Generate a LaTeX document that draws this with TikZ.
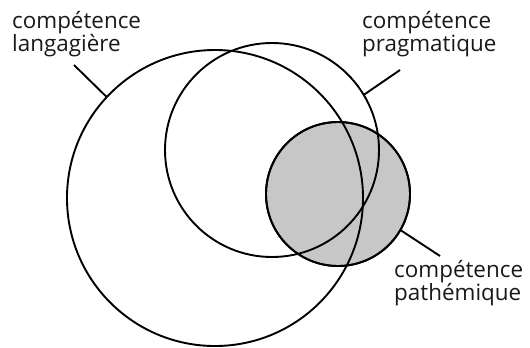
\documentclass[tikz,border=0pt]{standalone}
\usepackage{fontspec}
\setmainfont{Open Sans}
\begin{document}
\begin{tikzpicture}[x=1bp,y=-1bp,
  ring/.style={circle,draw=black,line width=1.9bp,inner sep=0pt,outer sep=0pt},
  lead/.style={line width=1.9bp},
  lbl/.style={anchor=north west,inner sep=0pt,align=left,font=\fontsize{22.5}{20.5}\selectfont,text=black!90}]
\useasboundingbox (0,0) rectangle (530,347);
% gray circle first (filled)
\node[ring,fill=black!22,minimum size=144bp] (path) at (338,194) {};
\node[ring,minimum size=296bp] (lang) at (215,198) {};
\node[ring,minimum size=214bp] (prag) at (272,150) {};
% redraw gray outline on top
\node[ring,minimum size=144bp] (pathb) at (338,194) {};
\node[lbl] (tl) at (12,11) {compétence\\langagière};
\node[lbl] (tp) at (362,11) {compétence\\pragmatique};
\node[lbl] (tpa) at (394,260) {compétence\\pathémique};
\coordinate (c1) at (74,65);
\coordinate (c2) at (400,70);
\coordinate (c3) at (440,256);
\draw[lead] (c1) -- (lang.137.5);
\draw[lead] (c2) -- (prag.31);
\draw[lead] (c3) -- (path.-30);
\end{tikzpicture}
\end{document}
